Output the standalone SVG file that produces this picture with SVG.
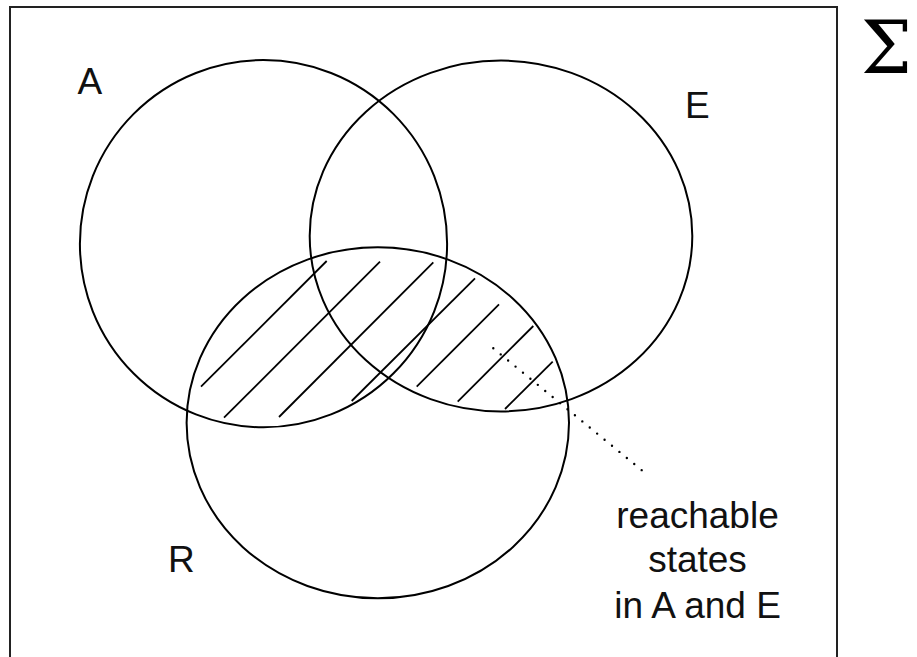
<svg xmlns="http://www.w3.org/2000/svg" width="917" height="657" viewBox="0 0 917 657">
<style>
.frame{fill:none;stroke:#222;stroke-width:2}
.set{fill:none;stroke:#000;stroke-width:2}
.hatch{stroke:#000;stroke-width:1.8;stroke-linecap:butt}
.dots{fill:none;stroke:#000;stroke-width:2.4;stroke-linecap:round;stroke-dasharray:0 9.6}
.lbl{font-family:"Helvetica Neue","Liberation Sans",Arial,sans-serif;font-size:37px;fill:#111}
.sig{font-family:"DejaVu Serif","Liberation Serif",serif;font-size:72px;fill:#000}
</style>
<rect width="917" height="657" fill="#fff"/>
<g id="universe">
<path class="frame" d="M10,660 V7 H837 V660"/>
<text class="sig" x="912" y="73" text-anchor="end">Σ</text>
</g>
<g id="hatching">
<line class="hatch" x1="201" y1="386.7" x2="326.7" y2="261"/>
<line class="hatch" x1="224" y1="417.7" x2="380" y2="261.7"/>
<line class="hatch" x1="279" y1="417" x2="433.3" y2="262.3"/>
<line class="hatch" x1="351.7" y1="401" x2="475" y2="278.3"/>
<line class="hatch" x1="416.7" y1="386.7" x2="499" y2="304.3"/>
<line class="hatch" x1="457.7" y1="401.7" x2="533.3" y2="326"/>
<line class="hatch" x1="505" y1="409" x2="552.7" y2="361.7"/>
</g>
<g id="A">
<circle class="set" cx="263.5" cy="243.7" r="183.6"/>
<text class="lbl" x="77.5" y="93.5">A</text>
</g>
<g id="E">
<ellipse class="set" cx="501" cy="236" rx="191.3" ry="175.4"/>
<text class="lbl" x="685" y="118.3">E</text>
</g>
<g id="R">
<ellipse class="set" cx="377.8" cy="422.8" rx="191.2" ry="175.5"/>
<text class="lbl" x="168" y="572.3">R</text>
</g>
<g id="connectors">
<path class="dots" d="M493.3,348.3 L642.7,471"/>
</g>
<g id="note">
<text class="lbl" text-anchor="middle" x="697.5" y="528.3">reachable</text>
<text class="lbl" text-anchor="middle" x="697.5" y="572.3">states</text>
<text class="lbl" text-anchor="middle" x="697.5" y="618.3">in A and E</text>
</g>
</svg>
